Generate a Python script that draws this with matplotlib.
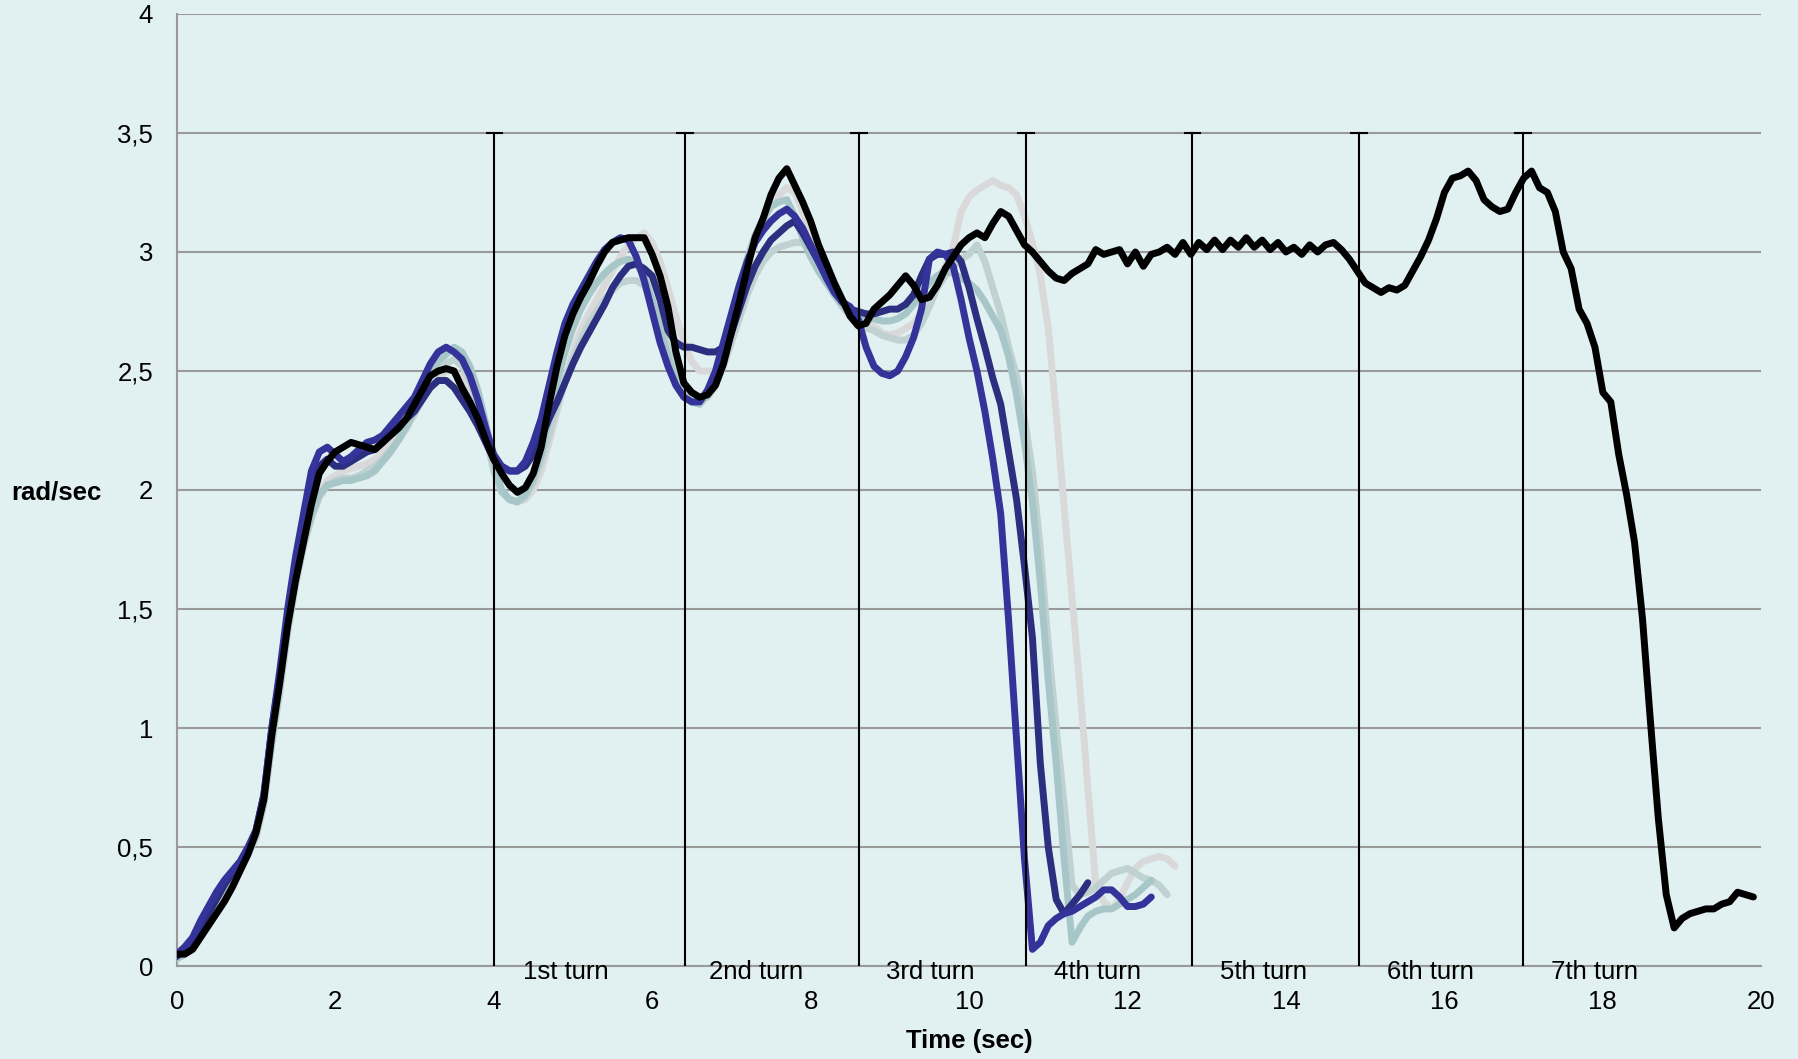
import numpy as np
import matplotlib
matplotlib.use("Agg")
import matplotlib.pyplot as plt

plt.rcParams['font.family'] = ['Liberation Sans', 'DejaVu Sans']

# angular velocity (rad/sec), sampled every 0.1 s
black_vals = [
    0.05, 0.05, 0.07, 0.12, 0.17, 0.22, 0.27, 0.33, 0.40, 0.47,
    0.56, 0.70, 0.97, 1.19, 1.43, 1.62, 1.78, 1.94, 2.07, 2.12,
    2.16, 2.18, 2.20, 2.19, 2.18, 2.17, 2.20, 2.23, 2.26, 2.30,
    2.36, 2.42, 2.48, 2.50, 2.51, 2.50, 2.43, 2.37, 2.30, 2.21,
    2.13, 2.07, 2.02, 1.99, 2.01, 2.07, 2.18, 2.36, 2.52, 2.65,
    2.74, 2.81, 2.87, 2.94, 3.00, 3.04, 3.05, 3.06, 3.06, 3.06,
    2.99, 2.90, 2.77, 2.58, 2.45, 2.41, 2.39, 2.40, 2.44, 2.53,
    2.66, 2.79, 2.93, 3.06, 3.14, 3.24, 3.31, 3.35, 3.28, 3.21,
    3.13, 3.03, 2.95, 2.87, 2.80, 2.73, 2.69, 2.70, 2.76, 2.79,
    2.82, 2.86, 2.90, 2.86, 2.80, 2.81, 2.86, 2.93, 2.98, 3.03,
    3.06, 3.08, 3.06, 3.12, 3.17, 3.15, 3.09, 3.03, 3.00, 2.96,
    2.92, 2.89, 2.88, 2.91, 2.93, 2.95, 3.01, 2.99, 3.00, 3.01,
    2.95, 3.00, 2.94, 2.99, 3.00, 3.02, 2.99, 3.04, 2.99, 3.04,
    3.01, 3.05, 3.01, 3.05, 3.02, 3.06, 3.02, 3.05, 3.01, 3.04,
    3.00, 3.02, 2.99, 3.03, 3.00, 3.03, 3.04, 3.01, 2.97, 2.92,
    2.87, 2.85, 2.83, 2.85, 2.84, 2.86, 2.92, 2.98, 3.05, 3.14,
    3.25, 3.31, 3.32, 3.34, 3.30, 3.22, 3.19, 3.17, 3.18, 3.25,
    3.31, 3.34, 3.27, 3.25, 3.17, 3.00, 2.93, 2.76, 2.70, 2.60,
    2.41, 2.37, 2.15, 1.98, 1.78, 1.46, 1.03, 0.62, 0.30, 0.16,
    0.20, 0.22, 0.23, 0.24, 0.24, 0.26, 0.27, 0.31, 0.30, 0.29,
]

blue_a_vals = [
    0.05, 0.08, 0.12, 0.19, 0.25, 0.31, 0.36, 0.40, 0.44, 0.50,
    0.57, 0.72, 1.00, 1.24, 1.50, 1.72, 1.90, 2.08, 2.16, 2.18,
    2.15, 2.12, 2.14, 2.17, 2.20, 2.21, 2.23, 2.27, 2.31, 2.35,
    2.39, 2.46, 2.53, 2.58, 2.60, 2.58, 2.55, 2.48, 2.38, 2.26,
    2.15, 2.10, 2.08, 2.08, 2.12, 2.20, 2.30, 2.44, 2.58, 2.70,
    2.78, 2.84, 2.90, 2.96, 3.01, 3.04, 3.06, 3.05, 2.98, 2.88,
    2.75, 2.62, 2.52, 2.44, 2.39, 2.37, 2.37, 2.42, 2.50, 2.62,
    2.74, 2.86, 2.96, 3.04, 3.09, 3.13, 3.16, 3.18, 3.15, 3.10,
    3.03, 2.96, 2.89, 2.83, 2.79, 2.77, 2.72, 2.60, 2.52, 2.49,
    2.48, 2.50, 2.56, 2.64, 2.76, 2.97, 3.00, 2.99, 2.94, 2.80,
    2.64, 2.50, 2.33, 2.13, 1.90, 1.45, 0.95, 0.45, 0.07, 0.10,
    0.17, 0.20, 0.22, 0.23, 0.25, 0.27, 0.29, 0.32, 0.32, 0.29,
    0.25, 0.25, 0.26, 0.29,
]

blue_b_vals = [
    0.04, 0.07, 0.10, 0.16, 0.22, 0.28, 0.34, 0.39, 0.43, 0.49,
    0.57, 0.72, 1.00, 1.22, 1.47, 1.68, 1.86, 2.00, 2.10, 2.13,
    2.10, 2.10, 2.12, 2.14, 2.16, 2.17, 2.20, 2.24, 2.27, 2.30,
    2.33, 2.38, 2.43, 2.46, 2.46, 2.43, 2.38, 2.33, 2.27, 2.20,
    2.13, 2.10, 2.08, 2.08, 2.10, 2.15, 2.22, 2.30, 2.37, 2.45,
    2.53, 2.60, 2.66, 2.72, 2.78, 2.85, 2.90, 2.94, 2.95, 2.93,
    2.90, 2.80, 2.67, 2.62, 2.60, 2.60, 2.59, 2.58, 2.58, 2.60,
    2.66, 2.76, 2.86, 2.94, 3.00, 3.05, 3.08, 3.11, 3.13, 3.08,
    3.02, 2.96, 2.90, 2.84, 2.79, 2.76, 2.75, 2.74, 2.74, 2.75,
    2.76, 2.76, 2.78, 2.82, 2.90, 2.97, 2.99, 2.99, 3.00, 2.96,
    2.85, 2.72, 2.60, 2.47, 2.36, 2.16, 1.96, 1.68, 1.38, 0.85,
    0.50, 0.28, 0.22, 0.26, 0.30, 0.35,
]

teal_vals = [
    0.03, 0.05, 0.08, 0.13, 0.18, 0.24, 0.30, 0.36, 0.42, 0.48,
    0.55, 0.70, 0.95, 1.18, 1.42, 1.62, 1.78, 1.90, 1.98, 2.02,
    2.03, 2.04, 2.04, 2.05, 2.06, 2.08, 2.12, 2.16, 2.21, 2.27,
    2.34, 2.42, 2.49, 2.54, 2.57, 2.60, 2.58, 2.52, 2.42, 2.28,
    2.12, 2.00, 1.96, 1.95, 1.98, 2.05, 2.15, 2.30, 2.45, 2.58,
    2.68, 2.76, 2.82, 2.87, 2.91, 2.94, 2.96, 2.97, 2.95, 2.90,
    2.80, 2.68, 2.56, 2.46, 2.40, 2.37, 2.36, 2.40, 2.48, 2.60,
    2.72, 2.85, 2.97, 3.07, 3.14, 3.19, 3.21, 3.22, 3.15, 3.06,
    2.98, 2.92, 2.87, 2.82, 2.78, 2.75, 2.73, 2.72, 2.72, 2.71,
    2.71, 2.72, 2.74, 2.78, 2.83, 2.87, 2.90, 2.92, 2.91, 2.89,
    2.87, 2.84, 2.79, 2.73, 2.67, 2.56, 2.40, 2.20, 1.95, 1.61,
    1.20, 0.85, 0.45, 0.10, 0.16, 0.21, 0.23, 0.24, 0.24, 0.26,
    0.28, 0.30, 0.33, 0.36,
]

pale_teal_vals = [
    0.03, 0.05, 0.07, 0.12, 0.17, 0.23, 0.29, 0.35, 0.41, 0.47,
    0.54, 0.68, 0.93, 1.15, 1.40, 1.60, 1.76, 1.88, 1.97, 2.02,
    2.04, 2.05, 2.05, 2.06, 2.08, 2.10, 2.13, 2.17, 2.21, 2.26,
    2.32, 2.39, 2.45, 2.50, 2.53, 2.55, 2.52, 2.46, 2.36, 2.23,
    2.08, 1.99, 1.96, 1.95, 1.97, 2.03, 2.12, 2.23, 2.35, 2.46,
    2.55, 2.63, 2.70, 2.75, 2.80, 2.84, 2.87, 2.88, 2.88, 2.86,
    2.80, 2.70, 2.60, 2.50, 2.43, 2.39, 2.38, 2.39, 2.44, 2.52,
    2.62, 2.72, 2.82, 2.90, 2.96, 3.00, 3.02, 3.03, 3.04, 3.04,
    3.00, 2.94, 2.88, 2.82, 2.77, 2.73, 2.70, 2.68, 2.67, 2.65,
    2.64, 2.63, 2.63, 2.65, 2.70, 2.77, 2.85, 2.90, 2.94, 2.97,
    2.99, 3.03, 2.96, 2.85, 2.74, 2.60, 2.48, 2.30, 2.08, 1.75,
    1.35, 1.00, 0.68, 0.34, 0.30, 0.31, 0.33, 0.36, 0.39, 0.40,
    0.41, 0.39, 0.37, 0.36, 0.34, 0.30,
]

grey_vals = [
    0.03, 0.05, 0.07, 0.12, 0.17, 0.23, 0.29, 0.35, 0.41, 0.47,
    0.54, 0.68, 0.94, 1.17, 1.42, 1.62, 1.78, 1.90, 1.99, 2.04,
    2.06, 2.08, 2.09, 2.10, 2.11, 2.13, 2.16, 2.19, 2.23, 2.27,
    2.32, 2.38, 2.43, 2.47, 2.50, 2.50, 2.47, 2.42, 2.34, 2.22,
    2.10, 2.00, 1.96, 1.95, 1.96, 2.00, 2.08, 2.20, 2.33, 2.46,
    2.58, 2.67, 2.74, 2.80, 2.86, 2.92, 2.98, 3.03, 3.06, 3.08,
    3.04, 2.96, 2.85, 2.73, 2.62, 2.54, 2.50, 2.50, 2.50, 2.56,
    2.67, 2.80, 2.93, 3.04, 3.13, 3.20, 3.24, 3.27, 3.25, 3.17,
    3.08, 3.00, 2.93, 2.86, 2.80, 2.76, 2.74, 2.72, 2.69, 2.66,
    2.65, 2.66, 2.68, 2.70, 2.74, 2.80, 2.87, 2.94, 3.02, 3.17,
    3.23, 3.26, 3.28, 3.30, 3.28, 3.27, 3.24, 3.15, 3.04, 2.90,
    2.68, 2.32, 1.93, 1.55, 1.17, 0.75, 0.34, 0.27, 0.24, 0.28,
    0.35, 0.41, 0.44, 0.45, 0.46, 0.45, 0.42,
]

turn_times = [4.01, 6.41, 8.61, 10.72, 12.82, 14.92, 16.99]
turn_labels = ['1st turn', '2nd turn', '3rd turn', '4th turn',
               '5th turn', '6th turn', '7th turn']
turn_top = 3.5

yticks = [0, 0.5, 1, 1.5, 2, 2.5, 3, 3.5, 4]
ytick_labels = ['0', '0,5', '1', '1,5', '2', '2,5', '3', '3,5', '4']
xticks = [0, 2, 4, 6, 8, 10, 12, 14, 16, 18, 20]

series = [
    (grey_vals, '#D9D9D9'),
    (pale_teal_vals, '#BFD1D1'),
    (teal_vals, '#A7C6C8'),
    (blue_b_vals, '#2C2F80'),
    (blue_a_vals, '#333399'),
    (black_vals, '#000000'),
]

bg = '#E1F0F1'
grid_col = '#9A9A9A'

fig = plt.figure(figsize=(17.98, 10.59), dpi=100, facecolor=bg)
ax = fig.add_axes([0.0983, 0.0878, 0.8813, 0.899])
ax.set_facecolor(bg)

for vals, col in series:
    t = np.arange(len(vals)) * 0.1
    ax.plot(t, vals, color=col, lw=5, solid_joinstyle='round',
            solid_capstyle='round', zorder=3)

# turn markers
for tt, lab in zip(turn_times, turn_labels):
    ax.plot([tt, tt], [0, turn_top], color='black', lw=1.5, zorder=4)
    ax.plot([tt - 0.1, tt + 0.1], [turn_top, turn_top], color='black',
            lw=1.5, zorder=4)
    ax.text(tt + 0.9, -0.025, lab, ha='center', va='center', fontsize=18.5,
            zorder=5, clip_on=False)

ax.set_xlim(0, 20)
ax.set_ylim(0, 4)
ax.set_yticks(yticks)
ax.set_yticklabels(ytick_labels)
ax.set_xticks(xticks)
ax.tick_params(axis='both', length=0, labelsize=18.5)
ax.tick_params(axis='y', pad=17)
ax.tick_params(axis='x', pad=17)
ax.yaxis.grid(True, color=grid_col, lw=1.5, zorder=1)
ax.set_axisbelow(True)
for s in ['top', 'right']:
    ax.spines[s].set_visible(False)
for s in ['left', 'bottom']:
    ax.spines[s].set_color(grid_col)
    ax.spines[s].set_linewidth(1.5)

fig.text(11 / 1798, 1 - 493 / 1059, 'rad/sec', fontsize=18.5,
         fontweight='bold', ha='left', va='center')
fig.text(ax.get_position().x0 + 0.5 * ax.get_position().width,
         1 - 1041 / 1059, 'Time (sec)', fontsize=18.5, fontweight='bold',
         ha='center', va='center')

fig.savefig('out.png', dpi=100, facecolor=bg)
